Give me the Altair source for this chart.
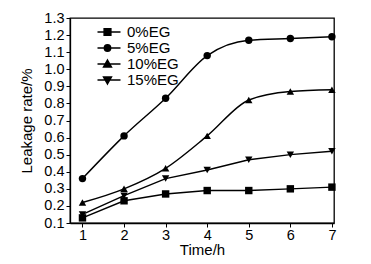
import altair as alt
import pandas as pd

time_h = [1, 2, 3, 4, 5, 6, 7]
series_names = ["0%EG", "5%EG", "10%EG", "15%EG"]
eg0 = [0.13, 0.23, 0.27, 0.29, 0.29, 0.30, 0.31]
eg5 = [0.36, 0.61, 0.83, 1.08, 1.17, 1.18, 1.19]
eg10 = [0.22, 0.30, 0.42, 0.61, 0.82, 0.87, 0.88]
eg15 = [0.15, 0.26, 0.36, 0.41, 0.47, 0.50, 0.52]
y_ticks = [0.1, 0.2, 0.3, 0.4, 0.5, 0.6, 0.7, 0.8, 0.9, 1.0, 1.1, 1.2, 1.3]
x_ticks = [1, 2, 3, 4, 5, 6, 7]

rows = []
for name, vals in zip(series_names, [eg0, eg5, eg10, eg15]):
    for t, v in zip(time_h, vals):
        rows.append({"Time": t, "Rate": v, "Series": name})
df = pd.DataFrame(rows)

FONT = "Liberation Sans"
marker_shapes = ["square", "circle", "triangle-up", "triangle-down"]
legend_shapes = [
    "M-2.5,0H3.25M-0.85,-0.85H0.85V0.85H-0.85Z",
    "M-2.5,0H3.25M0.8,0A0.8,0.8,0,1,1,-0.8,0A0.8,0.8,0,1,1,0.8,0Z",
    "M-2.5,0H3.25M0,-1L1,0.75H-1Z",
    "M-2.5,0H3.25M0,1L1,-0.75H-1Z",
]

x_enc = alt.X("Time:Q", scale=alt.Scale(domain=[0.7, 7.05], nice=False, zero=False),
              axis=alt.Axis(values=x_ticks, title="Time/h", format="d"))
y_enc = alt.Y("Rate:Q", scale=alt.Scale(domain=[0.1, 1.3], nice=False, zero=False),
              axis=alt.Axis(values=y_ticks, title="Leakage rate/%", format=".1f"))

base = alt.Chart(df)

smooth_lines = base.transform_filter(
    alt.FieldOneOfPredicate(field="Series", oneOf=["5%EG", "10%EG"])
).mark_line(color="black", strokeWidth=1.4, interpolate="monotone").encode(
    x=x_enc, y=y_enc, detail="Series:N"
)
straight_lines = base.transform_filter(
    alt.FieldOneOfPredicate(field="Series", oneOf=["0%EG", "15%EG"])
).mark_line(color="black", strokeWidth=1.4).encode(
    x=x_enc, y=y_enc, detail="Series:N"
)
points = base.mark_point(filled=True, color="black", opacity=1, size=55).encode(
    x=x_enc, y=y_enc,
    shape=alt.Shape("Series:N", scale=alt.Scale(domain=series_names, range=marker_shapes), legend=None),
)
legend_layer = base.transform_filter("false").mark_point(
    filled=True, fill="black", stroke="black", strokeWidth=1.4, opacity=1, size=64
).encode(
    x=x_enc, y=y_enc,
    shape=alt.Shape("Series:N", scale=alt.Scale(domain=series_names, range=legend_shapes),
                    legend=alt.Legend(title=None, orient="none", legendX=30, legendY=6.5,
                                      labelFontSize=15, labelFont=FONT, labelColor="black",
                                      symbolSize=64, symbolStrokeWidth=1.4, rowPadding=-0.7,
                                      labelOffset=12, padding=0)),
)

chart = alt.layer(smooth_lines, straight_lines, points, legend_layer).resolve_scale(
    shape="independent"
).properties(
    width=264, height=205, background="white",
    padding={"left": 11, "top": 2, "right": 5, "bottom": 2},
).configure_view(
    stroke="black", strokeWidth=1.3
).configure_axis(
    grid=False, labelFont=FONT, titleFont=FONT, labelFontSize=14.5, titleFontSize=15,
    titleFontWeight="normal", labelColor="black", titleColor="black",
    domainColor="black", tickColor="black", tickSize=4, domainWidth=1.3, tickWidth=1,
    labelPadding=2,
).configure_axisY(
    titlePadding=9
).configure_axisX(
    titlePadding=1, labelPadding=1
)

chart.save("out.html", embed_options={"renderer": "svg", "actions": False})
